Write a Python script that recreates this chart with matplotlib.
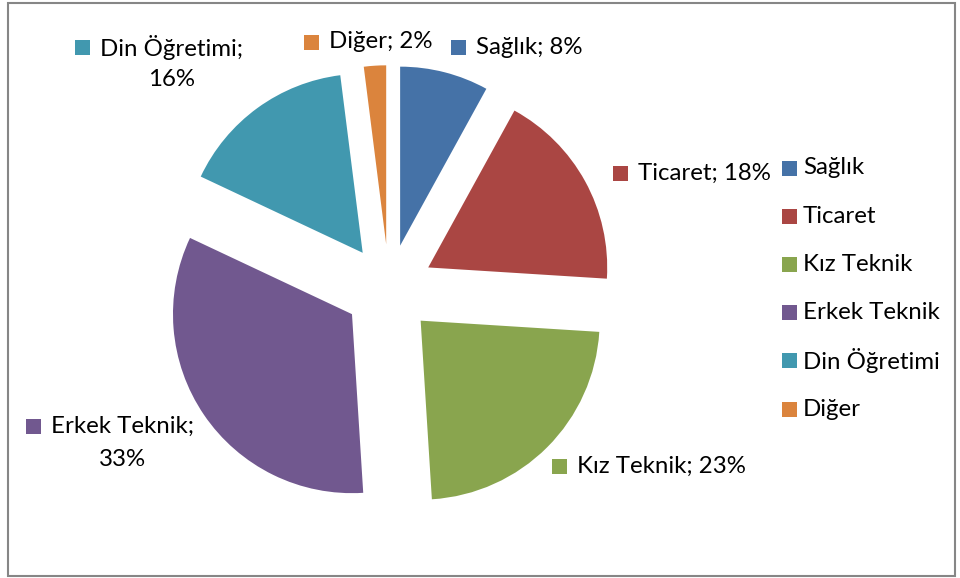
import numpy as np
import matplotlib
matplotlib.use("Agg")
import matplotlib.pyplot as plt
from matplotlib.patches import Rectangle

categories = ["Sağlık", "Ticaret", "Kız Teknik", "Erkek Teknik", "Din Öğretimi", "Diğer"]
shares = [8, 18, 23, 33, 16, 2]
colors = ["#4572A7", "#AA4643", "#89A54E", "#71588F", "#4198AF", "#DB843D"]

W, H = 960, 578
FONT = "Lato"
FS = 17.3
INK = "#000000"
SQ = 15


def Y(y):
    # image row -> data y (y axis points up)
    return H - y


fig = plt.figure(figsize=(W / 100, H / 100), dpi=100)
ax = fig.add_axes([0, 0, 1, 1])

radius = 179
ax.pie(shares, colors=colors, startangle=90, counterclock=False,
       center=(389, Y(289)), radius=radius,
       explode=[0.25 * radius] * len(shares),
       wedgeprops=dict(linewidth=0), frame=True)
ax.set_xlim(0, W)
ax.set_ylim(0, H)
ax.axis("off")

# chart frame
ax.add_patch(Rectangle((8, Y(576)), 947, 573, fill=False,
                       edgecolor="#868686", linewidth=1.5, zorder=5))


def keyed_text(x, y, text, color, second=None, second_x=None):
    ax.add_patch(Rectangle((x, Y(y) - SQ / 2), SQ, SQ, facecolor=color,
                           edgecolor="none", zorder=6))
    ax.text(x + 25, Y(y), text, ha="left", va="center", fontsize=FS,
            family=FONT, color=INK, zorder=6)
    if second:
        ax.text(second_x, Y(y + 33), second, ha="center", va="center",
                fontsize=FS, family=FONT, color=INK, zorder=6)


# data labels
keyed_text(451, 47, f"{categories[0]}; {shares[0]}%", colors[0])
keyed_text(613, 173, f"{categories[1]}; {shares[1]}%", colors[1])
keyed_text(552, 466, f"{categories[2]}; {shares[2]}%", colors[2])
keyed_text(26, 426, f"{categories[3]};", colors[3], f"{shares[3]}%", 123)
keyed_text(75, 47, f"{categories[4]};", colors[4], f"{shares[4]}%", 172)
keyed_text(304, 42, f"{categories[5]}; {shares[5]}%", colors[5])

# legend
for i, (name, c) in enumerate(zip(categories, colors)):
    y = 168 + 48.2 * i
    ax.add_patch(Rectangle((782, Y(y) - SQ / 2), SQ, SQ, facecolor=c,
                           edgecolor="none", zorder=6))
    ax.text(803, Y(y), name, ha="left", va="center", fontsize=FS,
            family=FONT, color=INK, zorder=6)

fig.savefig("out.png", dpi=100, facecolor="white")
